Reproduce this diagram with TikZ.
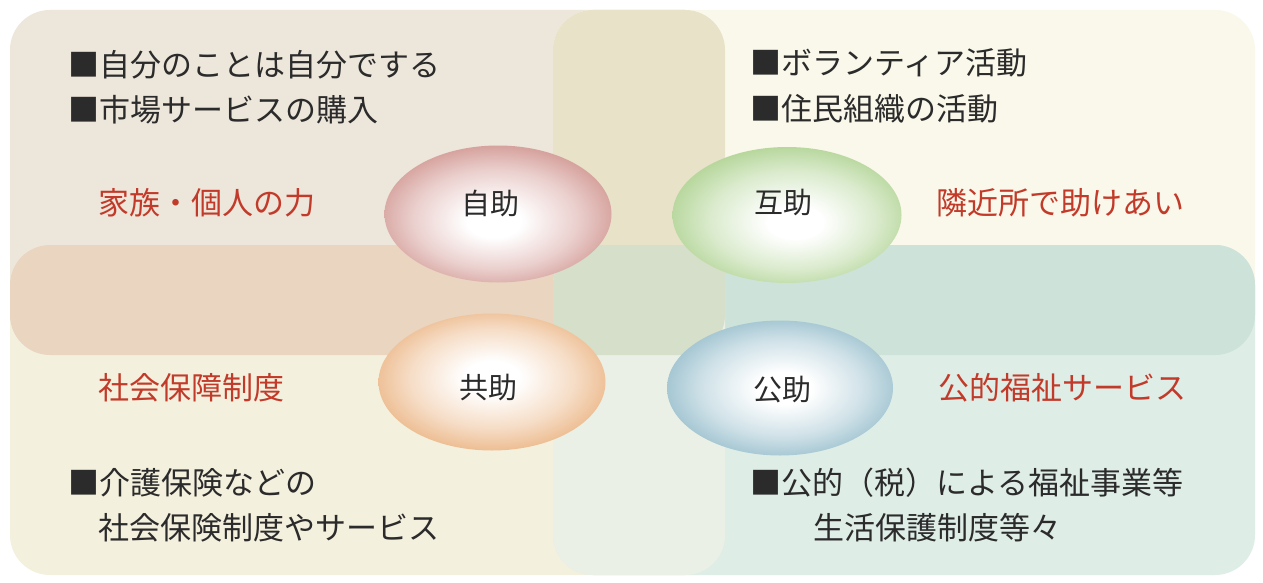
\documentclass[tikz,border=0pt]{standalone}
\usepackage{fontspec}
\setmainfont{Noto Sans CJK JP}
\usetikzlibrary{shapes.geometric}
\definecolor{cTL}{HTML}{EDE6DA}
\definecolor{cTR}{HTML}{FAF8EA}
\definecolor{cBL}{HTML}{F4F0DE}
\definecolor{cBR}{HTML}{DFEDE7}
\definecolor{cTLBL}{HTML}{EAD5C1}
\definecolor{cTLTR}{HTML}{E8E2C8}
\definecolor{cMid}{HTML}{D6DFC9}
\definecolor{cTRBR}{HTML}{CDE3DA}
\definecolor{cBLBR}{HTML}{EAF0E6}
\definecolor{cJijo}{HTML}{CB8983}
\definecolor{cGojo}{HTML}{A5CD84}
\definecolor{cKyojo}{HTML}{E8AA72}
\definecolor{cKojo}{HTML}{87B4C4}
\definecolor{txt}{HTML}{2B2B2B}
\definecolor{redtxt}{HTML}{C23B2A}
\pgfdeclareradialshading{shJijo}{\pgfpoint{-1bp}{-3bp}}{color(0bp)=(white);color(6bp)=(white);color(18bp)=(cJijo!40!white);color(31bp)=(cJijo);color(50bp)=(cJijo!96!black)}
\pgfdeclareradialshading{shGojo}{\pgfpoint{2bp}{-3bp}}{color(0bp)=(white);color(6bp)=(white);color(18bp)=(cGojo!40!white);color(31bp)=(cGojo);color(50bp)=(cGojo!96!black)}
\pgfdeclareradialshading{shKyojo}{\pgfpoint{0bp}{2bp}}{color(0bp)=(white);color(6bp)=(white);color(18bp)=(cKyojo!40!white);color(31bp)=(cKyojo);color(50bp)=(cKyojo!96!black)}
\pgfdeclareradialshading{shKojo}{\pgfpoint{1bp}{0bp}}{color(0bp)=(white);color(6bp)=(white);color(18bp)=(cKojo!40!white);color(31bp)=(cKojo);color(50bp)=(cKojo!96!black)}
\tikzset{
  bgbox/.style={rounded corners=40pt},
  item/.style={anchor=west,inner sep=0pt,text=txt,font=\fontsize{31}{37}\selectfont},
  redlab/.style={anchor=west,inner sep=0pt,text=redtxt,font=\fontsize{31}{37}\selectfont},
  ball/.style={ellipse,draw=none,inner sep=0pt,minimum width=227pt,minimum height=137pt},
  balltext/.style={inner sep=0pt,text=txt,font=\fontsize{29}{35}\selectfont}
}
\begin{document}
\begin{tikzpicture}[x=1pt,y=-1pt]
\useasboundingbox (0,0) rectangle (1263,583);
\fill[white] (0,0) rectangle (1263,583);
% four quadrant panels
\fill[bgbox,cTL] (10,10) rectangle (725,355);
\fill[bgbox,cTR] (553,10) rectangle (1255,355);
\fill[bgbox,cBL] (10,245) rectangle (725,575);
\fill[bgbox,cBR] (553,245) rectangle (1255,575);
% overlaps
\begin{scope}
  \clip[bgbox] (10,10) rectangle (725,355);
  \fill[bgbox,cTLTR] (553,10) rectangle (1255,355);
\end{scope}
\begin{scope}
  \clip[bgbox] (10,10) rectangle (725,355);
  \fill[bgbox,cTLBL] (10,245) rectangle (725,575);
\end{scope}
\begin{scope}
  \clip[bgbox] (553,10) rectangle (1255,355);
  \fill[bgbox,cTRBR] (553,245) rectangle (1255,575);
\end{scope}
\begin{scope}
  \clip[bgbox] (10,245) rectangle (725,575);
  \fill[bgbox,cBLBR] (553,245) rectangle (1255,575);
\end{scope}
\begin{scope}
  \clip[bgbox] (10,10) rectangle (725,355);
  \fill[bgbox,cMid] (553,245) rectangle (1255,575);
\end{scope}
% ellipses
\node[ball,shading=shJijo] (jijo) at (498,214) {};
\node[ball,shading=shGojo,minimum width=229pt,minimum height=136pt] (gojo) at (787,215) {};
\node[ball,shading=shKyojo] (kyojo) at (492,382) {};
\node[ball,shading=shKojo,minimum width=226pt,minimum height=135pt] (kojo) at (780,388) {};
\node[balltext] (jijoT) at (490,203) {自助};
\node[balltext] (gojoT) at (783,203) {互助};
\node[balltext] (kyojoT) at (488,388) {共助};
\node[balltext] (kojoT) at (782,390) {公助};
% texts
\node[item] (tl1) at (68,65) {■自分のことは自分でする};
\node[item] (tl2) at (68,110) {■市場サービスの購入};
\node[redlab] (tlr) at (98,203) {家族・個人の力};
\node[item] (tr1) at (750,63) {■ボランティア活動};
\node[item] (tr2) at (750,109) {■住民組織の活動};
\node[redlab] (trr) at (936,203) {隣近所で助けあい};
\node[redlab] (blr) at (98,388) {社会保障制度};
\node[redlab] (brr) at (938,388) {公的福祉サービス};
\node[item] (bl1) at (68,483) {■介護保険などの};
\node[item] (bl2) at (98,528) {社会保険制度やサービス};
\node[item] (br1) at (750,483) {■公的（税）による福祉事業等};
\node[item] (br2) at (813,528) {生活保護制度等々};
\end{tikzpicture}
\end{document}
